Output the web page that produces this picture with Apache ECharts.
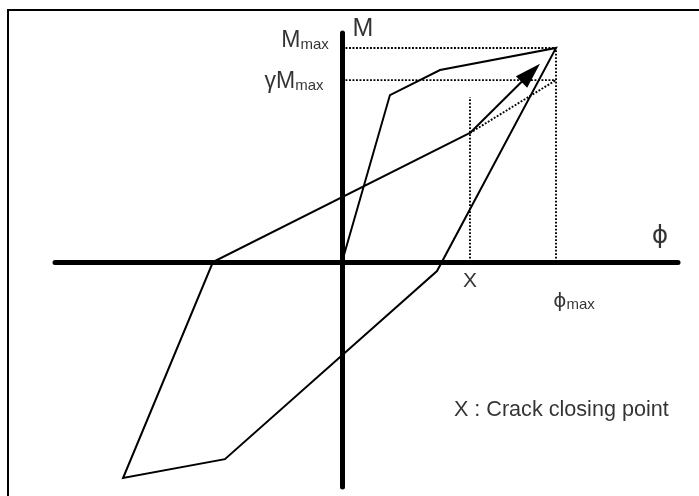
<!DOCTYPE html>
<html>
<head>
<meta charset="utf-8">
<title>Hysteresis rule with crack closing point</title>
<script src="https://cdn.jsdelivr.net/npm/echarts@6/dist/echarts.min.js"></script>
<style>
  html, body { margin: 0; padding: 0; background: #fff; overflow: hidden; }
  #wrap { position: relative; width: 699px; height: 496px; overflow: hidden; }
  #chart { position: absolute; left: 0; top: 0; width: 699px; height: 496px; }
  #frame {
    position: absolute; left: 7px; top: 9px; width: 720px; height: 520px;
    border-left: 2px solid #000; border-top: 2px solid #000; pointer-events: none;
  }
</style>
</head>
<body>
<div id="wrap">
  <div id="chart"></div>
  <div id="frame"></div>
</div>
<script>
// Curvature (phi / phi_max) and moment (M / M_max) of the hysteresis loop
const loopPhi = [0, 0.224, 0.458, 1.0, 0.444, -0.547, -1.023, -0.603, 0.598];
const loopM   = [0, 0.780, 0.897, 1.0, -0.042, -0.921, -1.009, 0, 0.603];

// Crack closing point X and the reloading arrow towards the peak
const crackPoint = [0.598, 0.603];
const arrowHead  = [0.882, 0.884];

// Reduced moment level gamma * M_max
const gammaLevel = 0.85;

// Dotted guide segments: [phi0, M0, phi1, M1]
const guideSegments = [
  [0, 1.0, 1.0, 1.0],
  [0, gammaLevel, 1.0, gammaLevel],
  [1.0, 0, 1.0, 1.0],
  [crackPoint[0], 0, crackPoint[0], 0.771],
  [crackPoint[0], crackPoint[1], 1.0, gammaLevel]
];

// Axis extents
const phiRange = [-1.341, 1.570];
const mRange = [-1.051, 1.070];

const FONT = '"Liberation Sans", Arial, Helvetica, sans-serif';
const PHI_FONT = '"DejaVu Sans", "Liberation Sans", sans-serif';

const loopData = loopPhi.map((p, i) => [p, loopM[i]]);

const guideSeries = guideSegments.map((s, i) => ({
  type: 'line',
  name: 'guide' + i,
  data: [[s[0], s[1]], [s[2], s[3]]],
  symbol: 'none',
  silent: true,
  z: 2,
  lineStyle: { color: '#000', width: 1.9, type: [1.9, 1.6] }
}));

const labels = [
  { value: [0, mRange[1]], label: { formatter: 'M', fontSize: 25, offset: [21, -4] } },
  { value: [0, 1.0], label: { formatter: '{a|M}{b|max}', offset: [-37, -7] } },
  { value: [0, gammaLevel], label: { formatter: '{a|γM}{b|max}', offset: [-48, 2] } },
  { value: [1.486, 0], label: { formatter: '{q|ϕ}', offset: [0, -26] } },
  { value: [crackPoint[0], 0], label: { formatter: 'X', fontSize: 21, offset: [0, 19] } },
  { value: [1.0, 0], label: { formatter: '{p|ϕ}{b|max}', offset: [18, 40] } },
  { value: [0.523, -0.693], label: { formatter: 'X : Crack closing point', fontSize: 21.6, align: 'left' } }
];

const chart = echarts.init(document.getElementById('chart'), null, { renderer: 'canvas' });

chart.setOption({
  backgroundColor: 'transparent',
  animation: false,
  textStyle: { fontFamily: FONT, color: '#000' },
  grid: { left: 55, right: 21, top: 33, bottom: 9, containLabel: false },
  xAxis: {
    type: 'value', min: phiRange[0], max: phiRange[1],
    axisLine: { show: true, onZero: true, lineStyle: { color: '#000', width: 5 } },
    axisTick: { show: false }, axisLabel: { show: false }, splitLine: { show: false }
  },
  yAxis: {
    type: 'value', min: mRange[0], max: mRange[1],
    axisLine: { show: true, onZero: true, lineStyle: { color: '#000', width: 5 } },
    axisTick: { show: false }, axisLabel: { show: false }, splitLine: { show: false }
  },
  series: [
    ...guideSeries,
    {
      type: 'line',
      name: 'loop',
      data: loopData,
      symbol: 'none',
      silent: true,
      z: 3,
      lineStyle: { color: '#000', width: 2, join: 'miter' }
    },
    {
      type: 'lines',
      name: 'reload',
      coordinateSystem: 'cartesian2d',
      silent: true,
      z: 4,
      symbol: ['none', 'path://M13,0L21,26L5,26Z M0,0 M26,26'],
      symbolSize: 26,
      lineStyle: { color: '#000', width: 2, opacity: 1, curveness: 0 },
      itemStyle: { color: '#000' },
      data: [{ coords: [crackPoint, arrowHead] }]
    },
    {
      type: 'scatter',
      name: 'labels',
      symbolSize: 0,
      clip: false,
      silent: true,
      z: 5,
      label: {
        show: true,
        position: 'inside',
        color: '#000',
        fontFamily: FONT,
        rich: {
          a: { fontSize: 23, fontFamily: FONT, color: '#000', lineHeight: 23, verticalAlign: 'bottom' },
          q: { fontSize: 25, fontFamily: PHI_FONT, color: '#000', lineHeight: 25 },
          p: { fontSize: 20, fontFamily: PHI_FONT, color: '#000', lineHeight: 20, verticalAlign: 'bottom' },
          b: { fontSize: 15, fontFamily: FONT, color: '#000', lineHeight: 15, verticalAlign: 'bottom' }
        }
      },
      data: labels
    }
  ]
});
</script>
</body>
</html>
